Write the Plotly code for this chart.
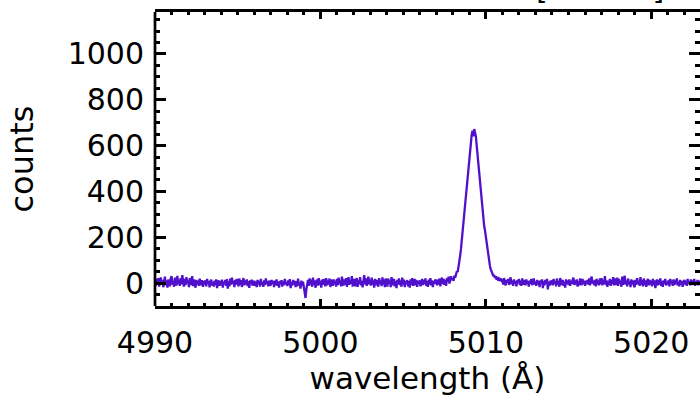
import numpy as np
import plotly.graph_objects as go

# wavelength sampling grid (Angstrom)
wl_start = 4990.0
wl_step = 0.05

counts_4990_4999 = [
    8, -12, 18, -5, 22, -15, 3, 25, -8, 14, -18, 6, 28, -10, 12, -20, 15, 4, -14, 20,
    30, -6, 10, -16, 24, 2, -11, 32, -4, 15, -12, 22, -5, 35, 8, -15, 18, -9, 26, 0,
    12, -18, 22, 5, -8, 30, -13, 16, 3, -20, 14, -5, 10, -12, 19, 1, -9, 13, -16, 8,
    -6, 12, -14, 18, -3, 9, -19, 7, 15, -10, 5, -15, 11, -8, 16, -22, 6, 12, -12, 9,
    -9, 15, -20, 6, -4, 13, -12, 17, -24, 9, -14, 20, -7, 24, -3, 10, -18, 14, -6, 18,
    2, -14, 20, -8, 13, -17, 5, 22, -10, 11, -6, 16, -13, 8, -21, 12, -4, 15, -11, 6,
    10, -12, 7, -18, 14, -5, 9, -15, 18, -7, 4, -16, 12, -9, 20, -3, 8, -14, 11, -6,
    -10, 14, -4, 9, -17, 11, -8, 16, -12, 6, -20, 10, -5, 13, -15, 7, -9, 18, -6, 4,
    -13, 12, -8, 17, -22, 5, -11, 14, -6, 10, -18, 8, -14, 19, -9, 3, -24, 11, -12, 6,
    -18, -35, -65, -28, -8, 14, -12, 20, -6, 15, -16, 24, -9, 12, -20, 8, 16, -11, 22, -7,
]
counts_5000_5007 = [
    10, -20, 15, -8, 18, 4, -14, 22, -10, 12, -6, 20, -17, 9, 14, -12, 16, -5, 11, -15,
    18, -9, 24, -4, 12, -14, 28, 2, -11, 16, -6, 22, -16, 10, 26, -8, 14, -3, 30, -10,
    -8, 18, -14, 6, 22, -17, 12, -4, 26, -10, 9, -19, 14, 35, -6, 20, -12, 8, 28, -5,
    15, -11, 24, -6, 12, -20, 18, 2, -9, 14, -16, 22, -4, 10, -13, 25, -7, 16, -18, 20,
    6, -15, 20, -3, 12, -18, 26, 4, -10, 18, -14, 8, -22, 14, -5, 20, -9, 12, -16, 24,
    -6, 15, -18, 10, -3, 13, -14, 8, -20, 16, -8, 22, -12, 6, 18, -10, 14, -16, 9, -4,
    12, -14, 6, 18, -9, 14, -4, 20, -12, 8, -16, 15, -6, 22, -10, 12, -18, 9, -3, 16,
    8, -10, 15, -6, 20, -14, 12, 24, -4, 18, -8, 14, -12, 22, 6, 28, -2, 18, 30, 14,
]
counts_line_5008_5010 = [
    20, 10, 32, 24, 40, 52, 48, 70, 85, 120, 150, 190, 220, 260, 300, 345, 380, 420, 460, 520,
    560, 600, 610, 650, 665, 640, 672, 655, 640, 600, 560, 500, 470, 420, 390, 350, 310, 280, 250, 230,
    200, 170, 150, 120, 100, 75, 60, 45, 42, 30, 36, 22, 30, 15, 28, 10, 24, 8, 20, 12,
]
counts_5011_5023 = [
    16, -6, 22, 4, -10, 14, 2, 18, -8, 12, 25, -4, 10, -12, 16, -2, 8, -14, 12, 4,
    18, -8, 10, -12, 20, 0, -6, 14, -10, 16, -4, 9, -15, 11, -3, 18, -9, 7, 20, -7,
    6, -12, 14, -6, 10, -18, 12, -4, 16, -22, 8, -10, 14, -2, 18, -28, 6, -12, 10, -6,
    12, -10, 18, -4, 8, -14, 20, -6, 10, -16, 22, 2, -8, 14, -12, 6, -20, 16, -4, 12,
    -8, 16, -12, 10, -4, 14, 24, -8, 12, -6, 16, -15, 8, -10, 20, 2, -9, 18, -4, 10,
    -12, 10, -4, 14, -6, 20, -10, 16, 28, -2, 10, -8, 14, -14, 18, -6, 12, -10, 20, -4,
    22, -10, 14, -4, 30, -8, 12, -16, 10, -6, 18, -12, 14, -4, 26, -10, 20, 2, -8, 24,
    -12, 18, -2, 10, -16, 28, -8, 14, 32, -6, 10, -14, 20, -4, 8, -18, 16, -6, 12, -10,
    -18, 14, -8, 22, -4, 10, -12, 26, -6, 14, -14, 20, -8, 12, -16, 8, 18, -10, 14, -6,
    10, -14, 18, -8, 12, -22, 8, 16, -10, 14, -6, 20, -12, 8, -16, 12, -4, 18, -10, 6,
    -6, 12, -14, 18, -2, 10, -12, 16, -8, 12, -4, 20, -10, 6, -14, 14, -6, 10, -16, 8,
    14, -6, 10, -12, 18, -4, 8, -10, 16, -8, 12, -2, 18, -12, 8, -6, 14, -10, 10, -4,
    6,
]

x_ticks = [4990, 5000, 5010, 5020]
y_ticks = [0, 200, 400, 600, 800, 1000]

counts = counts_4990_4999 + counts_5000_5007 + counts_line_5008_5010 + counts_5011_5023
wavelength = np.round(wl_start + wl_step * np.arange(len(counts)), 3)

LINE_COL = "#5010cc"
FONT = "DejaVu Sans"

fig = go.Figure()
fig.add_trace(go.Scatter(x=wavelength, y=counts, mode="lines",
                         line=dict(color=LINE_COL, width=2.3), showlegend=False,
                         hoverinfo="skip"))

fig.update_layout(
    width=700, height=402,
    margin=dict(l=155, r=0, t=12, b=96),
    plot_bgcolor="white", paper_bgcolor="white",
    font=dict(family=FONT, color="black"),
    xaxis=dict(
        range=[4990, 5022.95], tickvals=x_ticks, ticktext=[str(v) for v in x_ticks],
        ticks="inside", ticklen=7, tickwidth=2.5, tickcolor="black",
        minor=dict(dtick=1, tick0=4990, ticks="inside", ticklen=3.5, tickwidth=2.5, tickcolor="black"),
        showline=True, linewidth=2.7, linecolor="black", mirror="ticks",
        showgrid=False, zeroline=False,
        tickfont=dict(size=30, family=FONT),
        ticklabelstandoff=8,
        title=dict(text="wavelength (Å)", font=dict(size=31, family=FONT), standoff=9),
    ),
    yaxis=dict(
        range=[-100, 1183], tickvals=y_ticks, ticktext=[str(v) for v in y_ticks],
        ticks="inside", ticklen=11, tickwidth=2.5, tickcolor="black",
        minor=dict(dtick=50, tick0=0, ticks="inside", ticklen=5, tickwidth=2.5, tickcolor="black"),
        showline=False, mirror="ticks",
        showgrid=False, zeroline=False,
        tickfont=dict(size=30, family=FONT),
        ticklabelstandoff=10,
        title=dict(text="counts", font=dict(size=32, family=FONT), standoff=24),
    ),
    shapes=[dict(type="line", xref="paper", yref="paper", x0=0, x1=0, y0=0, y1=1,
                 line=dict(color="black", width=2.7), layer="above")],
    annotations=[dict(text="[" + "\u00a0" * 11 + "]", xref="paper", yref="paper",
                      x=(600 - 155) / 545, y=1.0, xanchor="center", yanchor="bottom",
                      yshift=4, showarrow=False, font=dict(size=30, family=FONT, color="black"))],
)

fig.write_html("out.html")
